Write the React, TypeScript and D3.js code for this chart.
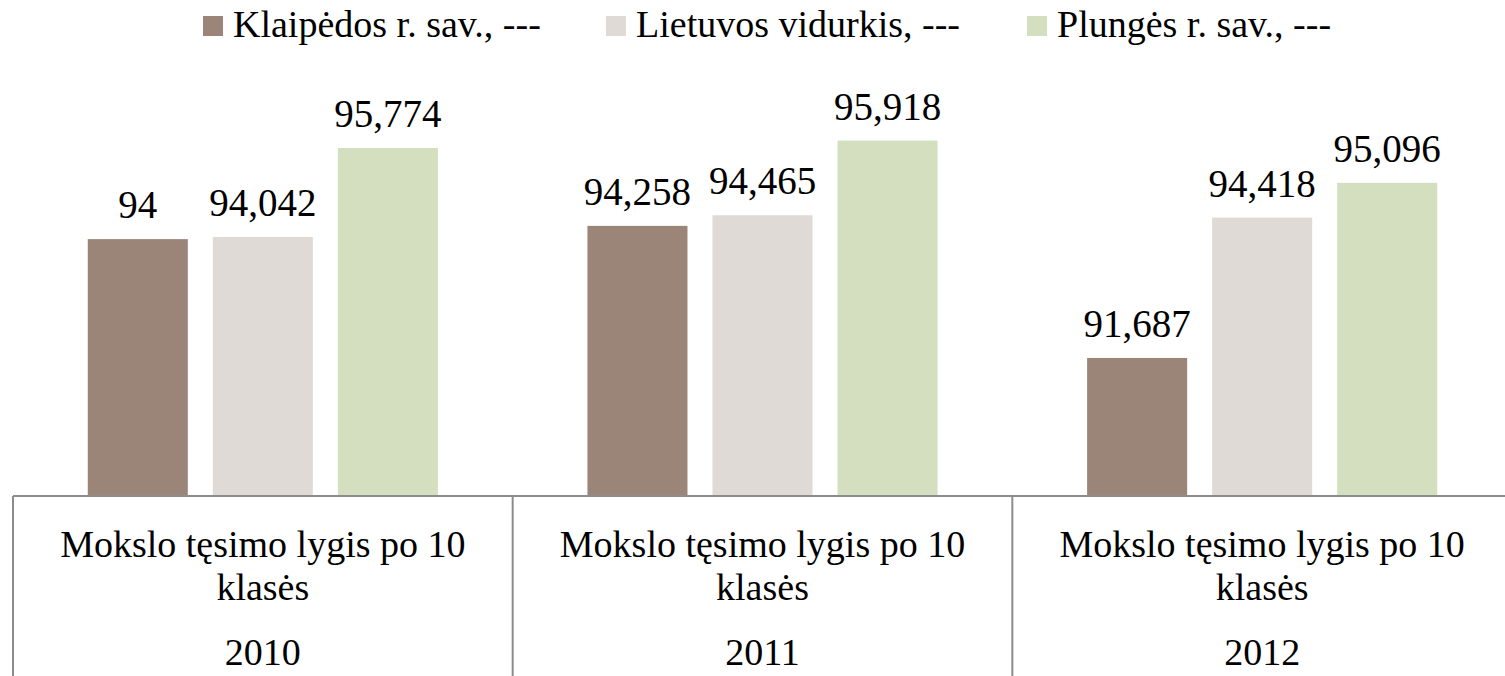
import { useEffect, useRef } from "react";
import * as d3 from "d3";

const categories = ["2010", "2011", "2012"];
const categoryLines = ["Mokslo tęsimo lygis po 10", "klasės"];
const seriesNames = ["Klaipėdos r. sav., ---", "Lietuvos vidurkis, ---", "Plungės r. sav., ---"];
const klaipedos = [94, 94.258, 91.687];
const lietuvos = [94.042, 94.465, 94.418];
const plunges = [95.774, 95.918, 95.096];
const colors = ["#9b8579", "#dfdad6", "#d3dfbf"];

const W = 1505;
const H = 676;
const FONT = "Liberation Serif, DejaVu Serif, serif";

export default function App() {
    const ref = useRef<SVGSVGElement>(null);

    useEffect(() => {
        const svg = d3.select(ref.current);
        svg.selectAll("*").remove();

        const values = [klaipedos, lietuvos, plunges];
        const axisY = 496;

        const x0 = d3.scaleBand().domain(categories).range([13, 1512]);
        const x1 = d3
            .scaleBand()
            .domain(seriesNames)
            .range([0, x0.bandwidth()])
            .paddingInner(0.2)
            .paddingOuter(0.598);
        const y = d3.scaleLinear().domain([89, 97]).range([axisY, 85]);

        const fmt = (v: number) => String(v).replace(".", ",");

        // bars
        seriesNames.forEach((s, si) => {
            const g = svg.append("g");
            g.selectAll("rect")
                .data(values[si])
                .enter()
                .append("rect")
                .attr("x", (d, i) => x0(categories[i])! + x1(s)!)
                .attr("y", d => y(d))
                .attr("width", x1.bandwidth())
                .attr("height", d => axisY - y(d))
                .attr("fill", colors[si]);

            g.selectAll("text")
                .data(values[si])
                .enter()
                .append("text")
                .attr("x", (d, i) => x0(categories[i])! + x1(s)! + x1.bandwidth() / 2)
                .attr("y", d => y(d) - 21)
                .attr("text-anchor", "middle")
                .attr("font-family", FONT)
                .attr("font-size", 39)
                .attr("fill", "#000")
                .text(d => fmt(d));
        });

        // category axis (table style)
        svg.append("line")
            .attr("x1", 13).attr("x2", 1512)
            .attr("y1", axisY).attr("y2", axisY)
            .attr("stroke", "#8c8c8c").attr("stroke-width", 2);

        categories.forEach(c => {
            const left = x0(c)!;
            const cx = left + x0.bandwidth() / 2;
            svg.append("line")
                .attr("x1", left).attr("x2", left)
                .attr("y1", axisY).attr("y2", H)
                .attr("stroke", "#8c8c8c").attr("stroke-width", 2);
            categoryLines.forEach((t, li) => {
                svg.append("text")
                    .attr("x", cx)
                    .attr("y", 557 + li * 43)
                    .attr("text-anchor", "middle")
                    .attr("font-family", FONT)
                    .attr("font-size", 38)
                    .text(t);
            });
            svg.append("text")
                .attr("x", cx)
                .attr("y", 665)
                .attr("text-anchor", "middle")
                .attr("font-family", FONT)
                .attr("font-size", 38)
                .text(c);
        });

        // legend
        const legendX = [203, 606, 1027];
        seriesNames.forEach((s, i) => {
            svg.append("rect")
                .attr("x", legendX[i]).attr("y", 16)
                .attr("width", 20).attr("height", 20)
                .attr("fill", colors[i]);
            svg.append("text")
                .attr("x", legendX[i] + 30)
                .attr("y", 37)
                .attr("font-family", FONT)
                .attr("font-size", 38)
                .text(s);
        });
    }, []);

    return (
        <svg
            ref={ref}
            width={W}
            height={H}
            style={{ position: "absolute", left: 0, top: 0, background: "#fff" }}
        />
    );
}
